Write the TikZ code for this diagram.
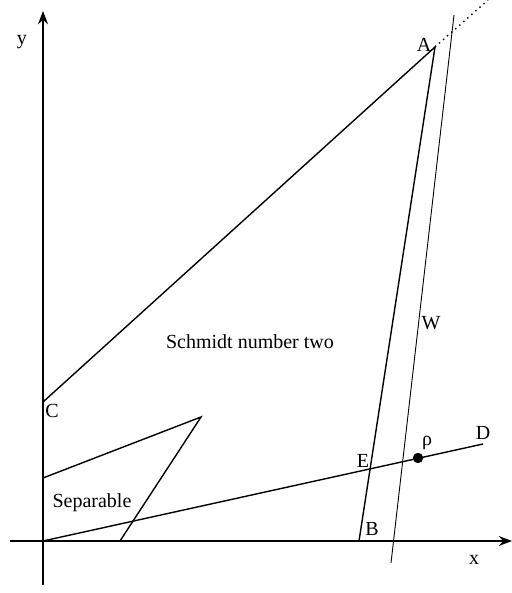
\documentclass[tikz,border=0pt]{standalone}
\usepackage{fontspec}
\setmainfont{Liberation Serif}
\usetikzlibrary{arrows.meta,positioning}

\begin{document}
\begin{tikzpicture}[x=0.5pt, y=0.5pt, >=Stealth, font=\normalsize]
  \useasboundingbox (-43,-52) rectangle (469,541);
  % points
  \coordinate (O) at (0,0);
  \coordinate (A) at (392,494);
  \coordinate (B) at (316,0);
  \coordinate (C) at (0,139);
  \coordinate (D) at (440,97);
  \coordinate (Atop) at (445,541);
  \coordinate (Wtop) at (411,526);
  \coordinate (Wbot) at (348,-22);
  \coordinate (S1) at (0,63);
  \coordinate (S2) at (158,124);
  \coordinate (S3) at (77,0);
  \coordinate (xl) at (-33,0);
  \coordinate (xr) at (469,0);
  \coordinate (yb) at (0,-44);
  \coordinate (yt) at (0,530);
  % axes
  \draw[->, line width=0.8pt] (xl) -- (xr);
  \draw[->, line width=0.8pt] (yb) -- (yt);
  \node (xlab) at (431,-19) {x};
  \node (ylab) at (-21,499) {y};
  % regions
  \draw[line width=0.7pt] (C) -- (A) -- (B);
  \draw[dotted, line width=0.7pt] (A) -- (Atop);
  \draw[line width=0.7pt] (S1) -- (S2) -- (S3);
  \draw[line width=0.7pt] (O) -- (D);
  \draw[line width=0.45pt] (Wbot) -- (Wtop);
  \fill (375,83) circle (2.6pt) coordinate (rho);
  % labels
  \node (Alab) at (381,496) {A};
  \node (Blab) at (329,12) {B};
  \node (Clab) at (9,130) {C};
  \node (Dlab) at (440,108) {D};
  \node (Elab) at (320,80) {E};
  \node (Wlab) at (388,218) {W};
  \node (rholab) at (384,98) {ρ};
  \node (sep) at (49,38) {Separable};
  \node (sch) at (207,199) {Schmidt number two};
\end{tikzpicture}
\end{document}
